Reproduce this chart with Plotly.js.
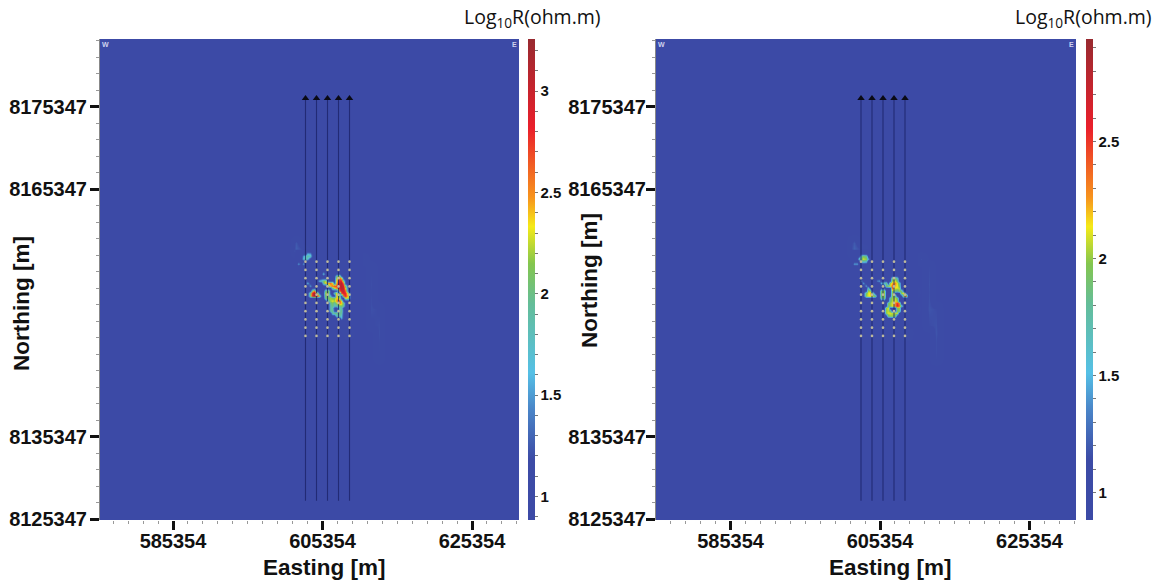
<!DOCTYPE html>
<html>
<head>
<meta charset="utf-8">
<script src="https://cdn.plot.ly/plotly-3.0.1.min.js"></script>
<style>html,body{margin:0;padding:0;background:#fff;overflow:hidden}#chart{width:1154px;height:580px}</style>
</head>
<body>
<div id="chart"></div>
<script>
// ---- tick labels and axis values ----
const eastingTicks = [585354, 605354, 625354];
const northingTicks = [8125347, 8135347, 8165347, 8175347];
const leftBarMajor = [1, 1.5, 2, 2.5, 3];
const rightBarMajor = [1, 1.5, 2, 2.5];
const backgroundLog = 1.0;

// ---- survey lines (easting, m) ----
const leftLines = [603079, 604551, 606023, 607495, 608967];
const rightLines = [602812, 604284, 605755, 607227, 608699];
const lineNorthStart = 8127547;
const lineNorthEnd = 8176347;
const receiverNorthings = [8147547, 8148547, 8149547, 8150547, 8151547, 8152547, 8153547, 8154547, 8155547, 8156547];

// ---- faint regional background, 1000 m cells ----
const plumeCols = [36, 37, 37, 37, 37, 37, 37, 37, 37, 38, 38, 38, 38, 38, 38, 38, 27, 27, 28, 33, 34, 33, 34, 35, 35];
const plumeRows = [32, 31, 30, 29, 28, 27, 26, 25, 24, 26, 25, 24, 23, 22, 21, 20, 33, 34, 33, 31, 30, 24, 23, 28, 26];
const leftPlumeVals = [1.19, 1.18, 1.19, 1.2, 1.19, 1.2, 1.21, 1.19, 1.18, 1.18, 1.19, 1.2, 1.21, 1.19, 1.19, 1.18, 1.28, 1.24, 1.22, 1.17, 1.17, 1.17, 1.17, 1.16, 1.16];
const rightPlumeVals = [1.16, 1.15, 1.16, 1.17, 1.16, 1.17, 1.18, 1.16, 1.15, 1.15, 1.16, 1.17, 1.18, 1.16, 1.16, 1.15, 1.24, 1.2, 1.19, 1.15, 1.15, 1.15, 1.15, 1.14, 1.14];

// ---- anomalies, 300 m cells: [row, first col, values west to east] ----
const leftAnomalies = [
 [1,5,[1.6,1.5]],[2,3,[1.5,1.7,1.9,1.8]],[3,3,[1.7,1.9,1.7]],[5,1,[1.5,0,1.5]],
 [9,12,[1.7]],[10,18,[1.9,2.2]],[11,18,[2.2,2.6,2.3]],
 [12,10,[1.6,1.8,2.1,2.2]],[12,18,[2.3,2.9,2.8,2.0]],
 [13,5,[1.6]],[13,12,[2.0,2.4,2.5,2.6,2.3,0,2.4,3.0,3.1,2.5]],
 [14,6,[1.5]],[14,14,[2.0,2.4,2.6,2.7,2.7,3.0,3.1,2.9,2.0]],
 [15,16,[2.0,2.3,2.5,2.9,3.1,3.0,2.3]],
 [16,7,[2.2,2.6]],[16,13,[2.0,2.1]],[16,19,[2.6,3.0,3.0,2.6]],
 [17,6,[2.1,2.9,3.2,2.6]],[17,13,[2.2,2.1,0,0,1.9,2.3,0,2.8,2.9,2.8,2.0]],
 [18,6,[2.2,2.9,3.2,3.0,2.2]],[18,13,[2.1,2.0,1.7,0,0,2.4,2.0,0,2.6,2.8,2.3]],
 [19,13,[2.0,2.1,2.2,2.1,2.1,2.4,2.2,0,0,2.3,2.2]],
 [20,14,[1.9,2.2,2.3,2.2,2.5,2.7,2.3]],
 [21,15,[2.0,2.1,1.9,2.2,2.6,2.4,2.0]],
 [22,15,[1.9,2.0,1.8,1.8,2.0,2.1,1.9]],
 [23,15,[1.9,1.8,0,0,1.8,1.9]],[24,15,[1.9,2.0,0,0,1.8,2.0]],
 [25,16,[1.9,2.0,2.0,2.0,1.9]],[26,18,[1.8,1.9,1.7]],[27,20,[1.6]]
];
const rightAnomalies = [
 [2,4,[1.7,1.9,1.8]],[3,3,[1.7,1.9,2.1,2.0,1.5]],[4,4,[1.7,1.8,1.7]],[5,1,[1.4,1.4]],
 [11,18,[1.8,1.9,1.7]],[12,4,[1.4]],[12,11,[1.3,1.4]],[12,18,[2.0,2.1,1.9]],
 [13,5,[1.4]],[13,13,[1.5,1.7,1.8,0,2.0,2.2,2.3,2.1,1.8]],
 [14,6,[1.4]],[14,15,[1.9,2.0,2.1,2.4,2.2,2.15,1.9]],
 [15,7,[1.7]],[15,18,[2.4,2.1,2.1,2.05]],
 [16,7,[2.0,2.0]],[16,13,[1.9,2.0]],[16,18,[2.0,1.9,1.8,2.0,1.9]],
 [17,6,[1.9,2.1,2.2,1.9]],[17,13,[1.9,2.0]],[17,18,[2.0,0,0,0,2.0,2.2]],
 [18,6,[2.0,2.1,2.15,2.1,1.9]],[18,13,[1.9,2.0]],[18,18,[2.0,1.8,0,0,0,2.2,2.4]],
 [19,13,[1.8,1.9,0,0,1.8,2.0,2.05,1.9]],[20,17,[1.9,2.05,2.1,2.0]],
 [21,16,[1.9,2.0,2.1,2.3,2.5,2.3]],[22,16,[1.9,2.0,2.1,2.3,2.6,2.4,1.7]],
 [23,15,[2.0,2.1,0,0,0,1.9,2.0]],[24,15,[2.0,2.05,1.9,0,0,1.9,2.0]],
 [25,15,[2.0,2.1,2.1,2.05,2.05,2.1]],[26,16,[1.9,2.0,2.0,1.9]]
];

// ---- colours by fraction of the bar ----
const colorStops = [
 [0,'#3c4aa6'],[0.127,'#3c4ba6'],[0.23,'#4a85c8'],[0.306,'#55c0e6'],[0.45,'#64bd98'],
 [0.533,'#84c64e'],[0.61,'#f5ea18'],[0.67,'#f7941d'],[0.815,'#ea1f2b'],[1,'#982a30']
];

// ---- page geometry (pixels) ----
const W = 1154, H = 580;
const px = v => v / W, py = v => 1 - v / H;
const panels = [
 {ax:'', l:100, r:519, xr:[575588, 631642], yr:[8125226, 8183543], lines:leftLines, anom:leftAnomalies, plume:leftPlumeVals, e0:601854,
  zr:[0.886, 3.26], major:leftBarMajor, barX:528, minor0:0.9, minorN:24, barTitleR:602, eastX:324, northX:21, northY:304, yStandoff:-1},
 {ax:'2', l:656, r:1076, xr:[575383, 631579], yr:[8125226, 8183543], lines:rightLines, anom:rightAnomalies, plume:rightPlumeVals, e0:601608,
  zr:[0.885, 2.94], major:rightBarMajor, barX:1086, minor0:1.0, minorN:20, barTitleR:1153, eastX:890, northX:589, northY:281, yStandoff:-4}
];

const coarseE = [], coarseN = [];
for (let i = 0; i < 60; i++) coarseE.push(574854 + 1000 * i);
for (let j = 0; j < 62; j++) coarseN.push(8124847 + 1000 * j);

const fineCols = 30, fineRows = 32, north0 = 8157847, cell = 300;

const traces = [], annotations = [];
const layout = {
 width: W, height: H, autosize: false,
 margin: {l:0, r:0, t:0, b:0}, paper_bgcolor:'#fff', plot_bgcolor:'#3c4ba6', showlegend:false
};
const tickFont = {family:'"Liberation Sans", Arial, sans-serif', size:20, color:'#111', weight:700};

panels.forEach(p => {
 const xa = 'x' + p.ax, ya = 'y' + p.ax;
 const ticks = [], texts = [];
 for (let i = 0; i < p.minorN; i++) {
  const v = Math.round((p.minor0 + 0.1 * i) * 10) / 10;
  ticks.push(v);
  texts.push(p.major.includes(v) ? String(v) : '');
 }
 const coarseZ = coarseN.map(() => coarseE.map(() => backgroundLog));
 plumeCols.forEach((c, k) => { coarseZ[plumeRows[k]][c] = p.plume[k]; });
 traces.push({
  type:'heatmap', x:coarseE, y:coarseN, z:coarseZ, xaxis:xa, yaxis:ya, zsmooth:'best',
  zmin:p.zr[0], zmax:p.zr[1], colorscale:colorStops, hoverinfo:'skip',
  colorbar:{
   x:px(p.barX), xanchor:'left', xpad:0, y:py(519.5), yanchor:'bottom', ypad:0,
   len:481/H, lenmode:'fraction', thickness:7, thicknessmode:'pixels',
   outlinewidth:0, borderwidth:0, ticks:'outside', ticklen:3, tickwidth:1, tickcolor:'#777',
   tickmode:'array', tickvals:ticks, ticktext:texts,
   tickfont:{family:'"Liberation Sans", Arial, sans-serif', size:15, color:'#111', weight:700}
  }
 });

 const east = [], north = [];
 for (let c = 0; c < fineCols; c++) east.push(p.e0 + cell * c);
 for (let k = 0; k < fineRows; k++) north.push(north0 - cell * (fineRows - 1 - k));
 const z = north.map(() => east.map(() => backgroundLog));
 p.anom.forEach(([row, col, vals]) => vals.forEach((v, n) => {
  if (v) z[fineRows - 1 - row][col + n] = v;
 }));
 traces.push({
  type:'heatmap', x:east, y:north, z, xaxis:xa, yaxis:ya, zsmooth:'best',
  zmin:p.zr[0], zmax:p.zr[1], colorscale:colorStops, showscale:false, hoverinfo:'skip'
 });

 const lx = [], ly = [];
 p.lines.forEach(e => { lx.push(e, e, null); ly.push(lineNorthStart, lineNorthEnd, null); });
 traces.push({type:'scatter', mode:'lines', x:lx, y:ly, xaxis:xa, yaxis:ya, hoverinfo:'skip',
  line:{color:'rgba(25,32,100,0.75)', width:1.1}});
 traces.push({type:'scatter', mode:'markers', x:p.lines, y:p.lines.map(() => lineNorthEnd), xaxis:xa, yaxis:ya, hoverinfo:'skip',
  marker:{symbol:'triangle-up', size:6.5, color:'#0a0a14'}});
 const dx = [], dy = [];
 p.lines.forEach(e => receiverNorthings.forEach(n => { dx.push(e); dy.push(n); }));
 traces.push({type:'scatter', mode:'markers', x:dx, y:dy, xaxis:xa, yaxis:ya, hoverinfo:'skip',
  marker:{symbol:'circle', size:2.6, color:'#bdb99c', line:{width:0}}});

 layout['xaxis' + p.ax] = {
  domain:[px(p.l), px(p.r)], range:p.xr, anchor:ya, showgrid:false, zeroline:false, showline:false,
  tickmode:'array', tickvals:eastingTicks, ticktext:eastingTicks.map(String),
  ticks:'outside', ticklen:9, tickwidth:3, tickcolor:'#111', tickfont:tickFont, ticklabelstandoff:-6,
  minor:{ticks:'outside', dtick:2000, tick0:585354, ticklen:3, tickwidth:1, tickcolor:'#999', showgrid:false}
 };
 layout['yaxis' + p.ax] = {
  domain:[py(520), py(39)], range:p.yr, anchor:xa, showgrid:false, zeroline:false,
  showline:true, linecolor:'#888', linewidth:1,
  tickmode:'array', tickvals:northingTicks, ticktext:northingTicks.map(String),
  ticks:'outside', ticklen:9, tickwidth:3, tickcolor:'#111', tickfont:tickFont, ticklabelstandoff:p.yStandoff,
  minor:{ticks:'outside', dtick:2000, tick0:8125347, ticklen:3, tickwidth:1, tickcolor:'#999', showgrid:false}
 };

 const titleFont = {family:'"Liberation Sans", Arial, sans-serif', size:22.5, color:'#111', weight:700};
 const note = (text, x, y, extra) => annotations.push(Object.assign({
  text, xref:'paper', yref:'paper', x:px(x), y:py(y), showarrow:false, xanchor:'center', yanchor:'middle', borderpad:0
 }, extra));
 note('Easting [m]', p.eastX, 567, {font:titleFont});
 note('Northing [m]', p.northX, p.northY, {font:titleFont, textangle:-90});
 note('Log<sub>10</sub>R(ohm.m)', p.barTitleR, 18, {xanchor:'right',
  font:{family:'"Open Sans", "Noto Sans", sans-serif', size:19.5, color:'#111'}});
 const mark = {family:'"Liberation Sans", Arial, sans-serif', size:7, color:'#cfd2ee', weight:700};
 note('W', p.l + 5, 44.5, {font:mark});
 note('E', p.r - 5, 44.5, {font:mark});
});
layout.annotations = annotations;

Plotly.newPlot('chart', traces, layout, {displayModeBar:false, staticPlot:true});
</script>
</body>
</html>
